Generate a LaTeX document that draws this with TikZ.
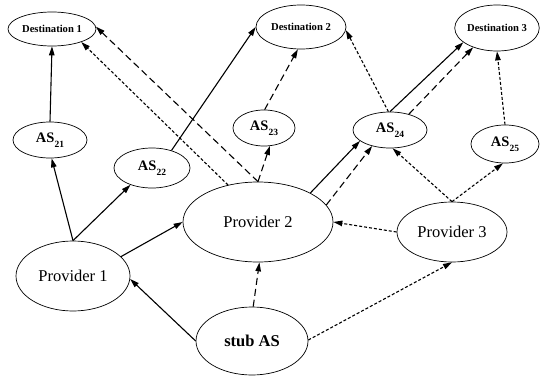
\documentclass[tikz,border=0pt]{standalone}
\usepackage{fontspec}
\setmainfont{Liberation Serif}
\usetikzlibrary{shapes.geometric,arrows.meta}
\newcommand{\lowsub}[1]{\raisebox{-4.5pt}{\fontsize{9.5}{10}\selectfont #1}}
\tikzset{
  box/.style={draw, ellipse, line width=0.7pt, inner sep=0pt, fill=white},
  dest/.style={box, font=\fontsize{10.6}{12}\selectfont\bfseries},
  asn/.style={box, font=\fontsize{14.5}{16}\selectfont\bfseries},
  prov/.style={box, font=\fontsize{16.5}{18}\selectfont},
  edge/.style={line width=1.1pt, -{Triangle[length=9pt,width=5.5pt]}},
  solidline/.style={edge},
  longdash/.style={edge, dash pattern=on 7pt off 4pt},
  shortdash/.style={edge, dash pattern=on 3pt off 2pt},
}
\begin{document}
\begin{tikzpicture}[x=1pt,y=-1pt]
\useasboundingbox (0,0) rectangle (540,377);
% nodes
\node[dest, minimum width=88pt, minimum height=34pt] (D1) at (52,29) {Destination 1};
\node[dest, minimum width=90pt, minimum height=44pt] (D2) at (301,27) {Destination 2};
\node[dest, minimum width=82pt, minimum height=46pt] (D3) at (497,28) {Destination 3};
\node[asn, minimum width=74pt, minimum height=36pt] (A21) at (50,140) {AS\lowsub{21}};
\node[asn, minimum width=76pt, minimum height=40pt] (A22) at (152,168) {AS\lowsub{22}};
\node[asn, minimum width=62pt, minimum height=36pt] (A23) at (264,128) {AS\lowsub{23}};
\node[asn, minimum width=74pt, minimum height=36pt] (A24) at (390,130) {AS\lowsub{24}};
\node[asn, minimum width=68pt, minimum height=38pt] (A25) at (505,144) {AS\lowsub{25}};
\node[prov, minimum width=114pt, minimum height=70pt] (P1) at (73,276) {Provider 1};
\node[prov, minimum width=150pt, minimum height=80pt] (P2) at (258,222) {Provider 2};
\node[prov, minimum width=110pt, minimum height=60pt] (P3) at (452,232) {Provider 3};
\node[prov, minimum width=112pt, minimum height=68pt, font=\fontsize{16.5}{18}\selectfont\bfseries] (S) at (252,341) {stub AS};
% solid edges
\draw[solidline] (A21.90) -- (D1.270);
\draw[solidline] (P1.90) -- (A21.-85);
\draw[solidline] (P1.90) -- (A22.218);
\draw[solidline] (P1.22) -- (P2.180);
\draw[solidline] (S.180) -- (P1.-3);
\draw[solidline] (A22.42) -- (D2.180);
\draw[solidline] (P2.29) -- (A24.200);
\draw[solidline] (A24.90) -- (D3.203);
% long dashed edges
\draw[longdash] (S.88) -- (P2.-88);
\draw[longdash] (P2.90) -- (D1.3);
\draw[longdash] (P2.90) -- (A23.-72);
\draw[longdash] (A23.88) -- (D2.-98);
\draw[longdash] (P2.14) -- (A24.222);
\draw[longdash] (A24.40) -- (D3.219);
% short dashed edges
\draw[shortdash] (P2.129) -- (D1.-24);
\draw[shortdash] (S.1) -- (P3.270);
\draw[shortdash] (P3.180) -- (P2.0);
\draw[shortdash] (P3.90) -- (A24.-82);
\draw[shortdash] (P3.90) -- (A25.-96);
\draw[shortdash] (A25.90) -- (D3.270);
\draw[shortdash] (A24.95) -- (D2.-4);
\end{tikzpicture}
\end{document}
